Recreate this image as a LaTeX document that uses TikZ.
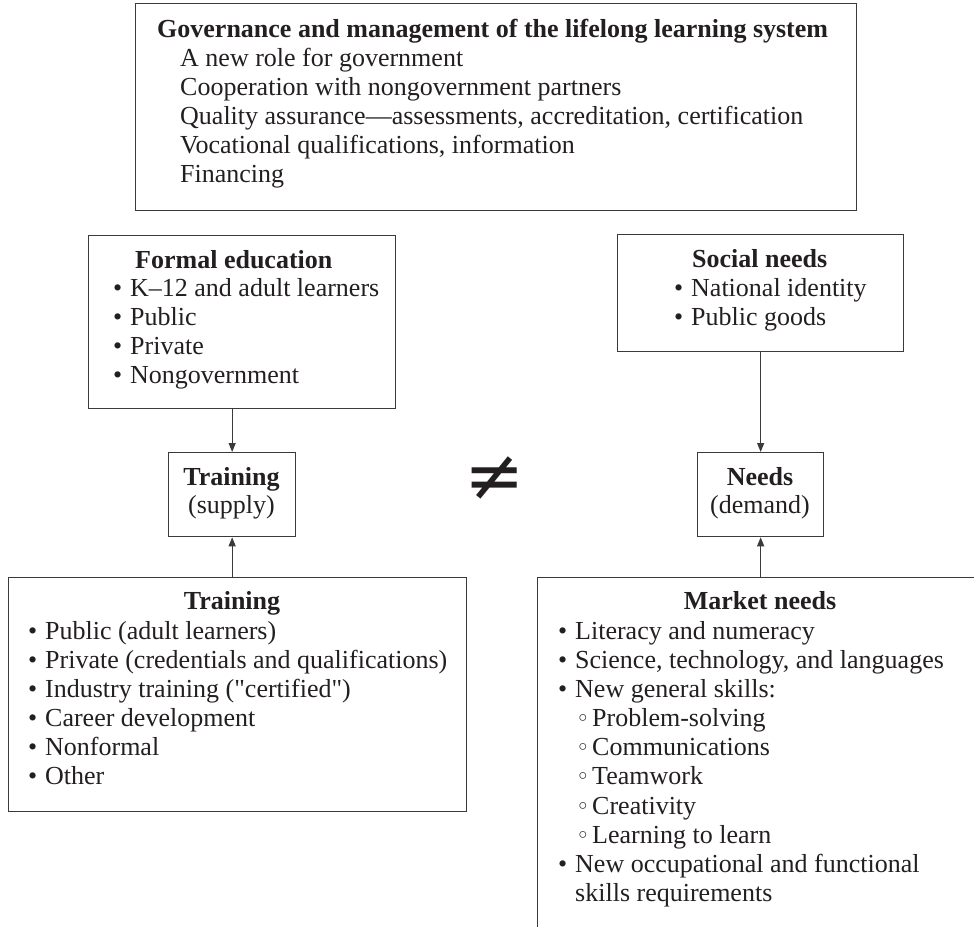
\documentclass[tikz,border=0pt]{standalone}
\usepackage{fontspec}
\setmainfont{Liberation Serif}[Ligatures=TeXOff]
\newfontfamily\dejavu{DejaVu Sans}
\usetikzlibrary{arrows.meta}
\definecolor{ink}{HTML}{231F20}
\definecolor{frame}{HTML}{3A3A3A}
\tikzset{
  box/.style={draw=frame, line width=1.3pt, anchor=north west, inner sep=0pt},
  txt/.style={anchor=base west, inner sep=0pt, text=ink, font=\fontsize{26}{29}\selectfont},
  ctxt/.style={txt, anchor=base},
  btxt/.style={txt, font=\fontsize{26}{29}\selectfont\bfseries},
  cbtxt/.style={btxt, anchor=base},
  conn/.style={draw=frame, line width=1.2pt, -{Triangle[length=9pt,width=7pt]}},
  neqsym/.style={inner sep=0pt, text=ink, font=\dejavu\fontsize{72}{72}\selectfont},
}
\newcommand{\bul}{\makebox[17pt][l]{•}}
\newcommand{\sbul}{\makebox[16pt][l]{{\dejavu\fontsize{23}{23}\selectfont ◦}}}
\begin{document}
\begin{tikzpicture}[x=1pt,y=-1pt]
\useasboundingbox (0,0) rectangle (974,926);
\clip (0,0) rectangle (974,926);

% boxes
\node[box, minimum width=721pt, minimum height=207pt] (gov) at (135,3) {};
\node[box, minimum width=307pt, minimum height=173pt] (formal) at (88,235) {};
\node[box, minimum width=286pt, minimum height=117pt] (social) at (617,234) {};
\node[box, minimum width=127pt, minimum height=84pt] (supply) at (168,452) {};
\node[box, minimum width=126pt, minimum height=84pt] (needs) at (697,452) {};
\node[box, minimum width=458pt, minimum height=234pt] (train) at (8,577) {};
\node[box, minimum width=480pt, minimum height=400pt] (market) at (537,577) {};

% governance text
\node[btxt] (g0) at (157,37) {Governance and management of the lifelong learning system};
\node[txt] (g1) at (180,66) {A new role for government};
\node[txt] (g2) at (180,95) {Cooperation with nongovernment partners};
\node[txt] (g3) at (180,124) {Quality assurance—assessments, accreditation, certification};
\node[txt] (g4) at (180,153) {Vocational qualifications, information};
\node[txt] (g5) at (180,182) {Financing};

% formal education
\node[btxt] (f0) at (135,268) {Formal education};
\node[txt] (f1) at (113,296) {\bul K–12 and adult learners};
\node[txt] (f2) at (113,325) {\bul Public};
\node[txt] (f3) at (113,354) {\bul Private};
\node[txt] (f4) at (113,383) {\bul Nongovernment};

% social needs
\node[btxt] (s0) at (692,267) {Social needs};
\node[txt] (s1) at (674,296) {\bul National identity};
\node[txt] (s2) at (674,325) {\bul Public goods};

% supply / demand
\node[cbtxt] (t0) at (231.5,485) {Training};
\node[ctxt] (t1) at (231.5,513) {(supply)};
\node[cbtxt] (n0) at (760,485) {Needs};
\node[ctxt] (n1) at (760,513) {(demand)};

\node[neqsym] (neq) at (495,479) {≠};

% training
\node[cbtxt] (r0) at (232,609) {Training};
\node[txt] (r1) at (28,639) {\bul Public (adult learners)};
\node[txt] (r2) at (28,668) {\bul Private (credentials and qualifications)};
\node[txt] (r3) at (28,697) {\bul Industry training ("certified")};
\node[txt] (r4) at (28,726) {\bul Career development};
\node[txt] (r5) at (28,755) {\bul Nonformal};
\node[txt] (r6) at (28,784) {\bul Other};

% market needs
\node[cbtxt] (m0) at (760,609) {Market needs};
\node[txt] (m1) at (558,639) {\bul Literacy and numeracy};
\node[txt] (m2) at (558,668) {\bul Science, technology, and languages};
\node[txt] (m3) at (558,697) {\bul New general skills:};
\node[txt] (m4) at (576,726) {\sbul Problem-solving};
\node[txt] (m5) at (576,755) {\sbul Communications};
\node[txt] (m6) at (576,784) {\sbul Teamwork};
\node[txt] (m7) at (576,814) {\sbul Creativity};
\node[txt] (m8) at (576,843) {\sbul Learning to learn};
\node[txt] (m9) at (558,872) {\bul New occupational and functional};
\node[txt] (m10) at (575,901) {skills requirements};

% connectors
\draw[conn] (formal.south -| supply.north) -- (supply.north);
\draw[conn] (train.north -| supply.south) -- (supply.south);
\draw[conn] (social.south) -- (needs.north);
\draw[conn] (market.north -| needs.south) -- (needs.south);
\end{tikzpicture}
\end{document}
